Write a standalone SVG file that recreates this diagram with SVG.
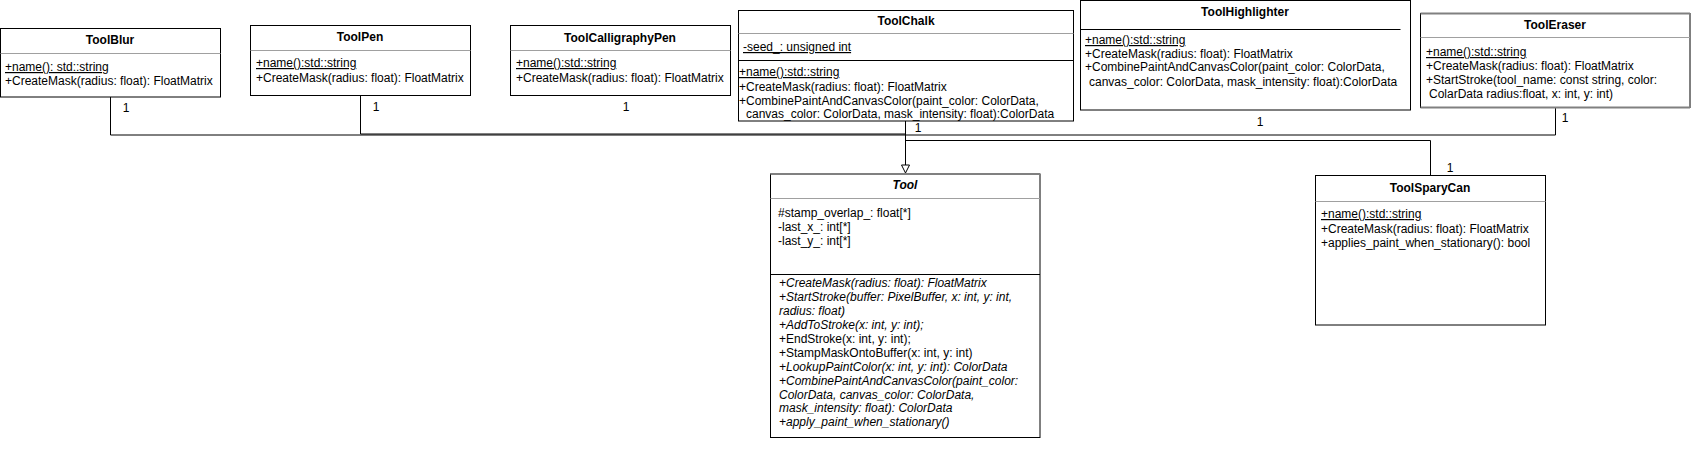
<svg xmlns="http://www.w3.org/2000/svg" width="1691" height="467" viewBox="0 0 1691 467">
<style>
text{font-family:"Liberation Sans",Arial,sans-serif;font-size:12px;fill:#000}
.t{font-weight:bold;text-anchor:middle}
.u{text-decoration:underline}
.i{font-style:italic}
.box{fill:#fff;stroke:#000;stroke-width:1}
.dv{stroke:#a0a0a0;stroke-width:1}
.db{stroke:#000;stroke-width:1}
.gt{stroke:#808080;stroke-width:2}
.c{fill:none;stroke:#000;stroke-width:1}
.m{text-anchor:middle}
</style>
<rect width="1691" height="467" fill="#fff"/>
<g id="connectors">
<path class="c" d="M110.5 97 V135 H905.5"/>
<path class="c" d="M360.5 95 V134 H905.5"/>
<path class="c" d="M1555.5 108 V135 H905.5"/>
<path class="c" d="M1430.5 176 V140.5 H905.5"/>
<path class="c" d="M905.5 121 V165"/>
<polygon points="901.5,165 909.5,165 905.5,173" fill="#fff" stroke="#000" stroke-width="1"/>
<text class="m" x="126" y="112">1</text>
<text class="m" x="376" y="111">1</text>
<text class="m" x="626" y="111">1</text>
<text class="m" x="918" y="132">1</text>
<text class="m" x="1260" y="126">1</text>
<text class="m" x="1565" y="122">1</text>
<text class="m" x="1450" y="172">1</text>
</g>
<g id="ToolBlur">
<rect class="box" x="0.5" y="28.5" width="220" height="68.5"/>
<line class="dv" x1="0.5" y1="53.5" x2="220.5" y2="53.5"/>
<text class="t" x="110" y="44">ToolBlur</text>
<text class="u" x="5" y="71">+name(): std::string</text>
<text x="5" y="85">+CreateMask(radius: float): FloatMatrix</text>
</g>
<g id="ToolPen">
<rect class="box" x="250.5" y="25.5" width="220" height="70"/>
<line class="dv" x1="250.5" y1="50.5" x2="470.5" y2="50.5"/>
<text class="t" x="360" y="41">ToolPen</text>
<text class="u" x="256" y="67">+name():std::string</text>
<text x="256" y="82">+CreateMask(radius: float): FloatMatrix</text>
</g>
<g id="ToolCalligraphyPen">
<rect class="box" x="510.5" y="25.5" width="220" height="70"/>
<line class="dv" x1="510.5" y1="50.5" x2="730.5" y2="50.5"/>
<text class="t" x="620" y="42">ToolCalligraphyPen</text>
<text class="u" x="516" y="67">+name():std::string</text>
<text x="516" y="82">+CreateMask(radius: float): FloatMatrix</text>
</g>
<g id="ToolChalk">
<rect class="box" x="738.5" y="10.5" width="335" height="110.5"/>
<line class="dv" x1="738.5" y1="33.5" x2="1073.5" y2="33.5"/>
<line class="db" x1="738.5" y1="60.5" x2="1073.5" y2="60.5"/>
<text class="t" x="906" y="25">ToolChalk</text>
<text class="u" x="743" y="51">-seed_: unsigned int</text>
<text class="u" x="739" y="76">+name():std::string</text>
<text x="739" y="91">+CreateMask(radius: float): FloatMatrix</text>
<text x="739" y="105">+CombinePaintAndCanvasColor(paint_color: ColorData,</text>
<text x="746" y="118">canvas_color: ColorData, mask_intensity: float):ColorData</text>
</g>
<g id="ToolHighlighter">
<rect class="box" x="1080.5" y="0.5" width="330" height="109.5"/>
<line class="db" x1="1080.5" y1="29.5" x2="1400.5" y2="29.5"/>
<text class="t" x="1245" y="16">ToolHighlighter</text>
<text class="u" x="1085" y="44">+name():std::string</text>
<text x="1085" y="58">+CreateMask(radius: float): FloatMatrix</text>
<text x="1085" y="71">+CombinePaintAndCanvasColor(paint_color: ColorData,</text>
<text x="1089" y="86">canvas_color: ColorData, mask_intensity: float):ColorData</text>
</g>
<g id="ToolEraser">
<rect class="box" x="1420.5" y="13.5" width="269.5" height="94"/>
<line class="gt" x1="1420.5" y1="13.5" x2="1690" y2="13.5"/>
<line class="gt" x1="1420.5" y1="107.5" x2="1690" y2="107.5"/>
<line class="dv" x1="1420.5" y1="37.5" x2="1690" y2="37.5"/>
<text class="t" x="1555" y="29">ToolEraser</text>
<text class="u" x="1426" y="56">+name():std::string</text>
<text x="1426" y="70">+CreateMask(radius: float): FloatMatrix</text>
<text x="1426" y="84">+StartStroke(tool_name: const string, color:</text>
<text x="1429" y="98">ColarData radius:float, x: int, y: int)</text>
</g>
<g id="Tool">
<rect class="box" x="770.5" y="174" width="269.5" height="263.5"/>
<line class="gt" x1="770.5" y1="174" x2="1040" y2="174"/>
<line class="dv" x1="770.5" y1="198.5" x2="1040" y2="198.5"/>
<line class="db" x1="770.5" y1="274.5" x2="1040" y2="274.5"/>
<text class="t i" x="905" y="189">Tool</text>
<text x="778" y="217">#stamp_overlap_: float[*]</text>
<text x="778" y="231">-last_x_: int[*]</text>
<text x="778" y="245">-last_y_: int[*]</text>
<text class="i" x="779" y="287">+CreateMask(radius: float): FloatMatrix</text>
<text class="i" x="779" y="301">+StartStroke(buffer: PixelBuffer, x: int, y: int,</text>
<text class="i" x="779" y="315">radius: float)</text>
<text class="i" x="779" y="329">+AddToStroke(x: int, y: int);</text>
<text x="779" y="343">+EndStroke(x: int, y: int);</text>
<text x="779" y="357">+StampMaskOntoBuffer(x: int, y: int)</text>
<text class="i" x="779" y="371">+LookupPaintColor(x: int, y: int): ColorData</text>
<text class="i" x="779" y="385">+CombinePaintAndCanvasColor(paint_color:</text>
<text class="i" x="779" y="399">ColorData, canvas_color: ColorData,</text>
<text class="i" x="779" y="412">mask_intensity: float): ColorData</text>
<text class="i" x="779" y="426">+apply_paint_when_stationary()</text>
</g>
<g id="ToolSparyCan">
<rect class="box" x="1315.5" y="175.5" width="230" height="149.5"/>
<line class="dv" x1="1315.5" y1="201.5" x2="1545.5" y2="201.5"/>
<text class="t" x="1430" y="192">ToolSparyCan</text>
<text class="u" x="1321" y="218">+name():std::string</text>
<text x="1321" y="233">+CreateMask(radius: float): FloatMatrix</text>
<text x="1321" y="247">+applies_paint_when_stationary(): bool</text>
</g>
</svg>
